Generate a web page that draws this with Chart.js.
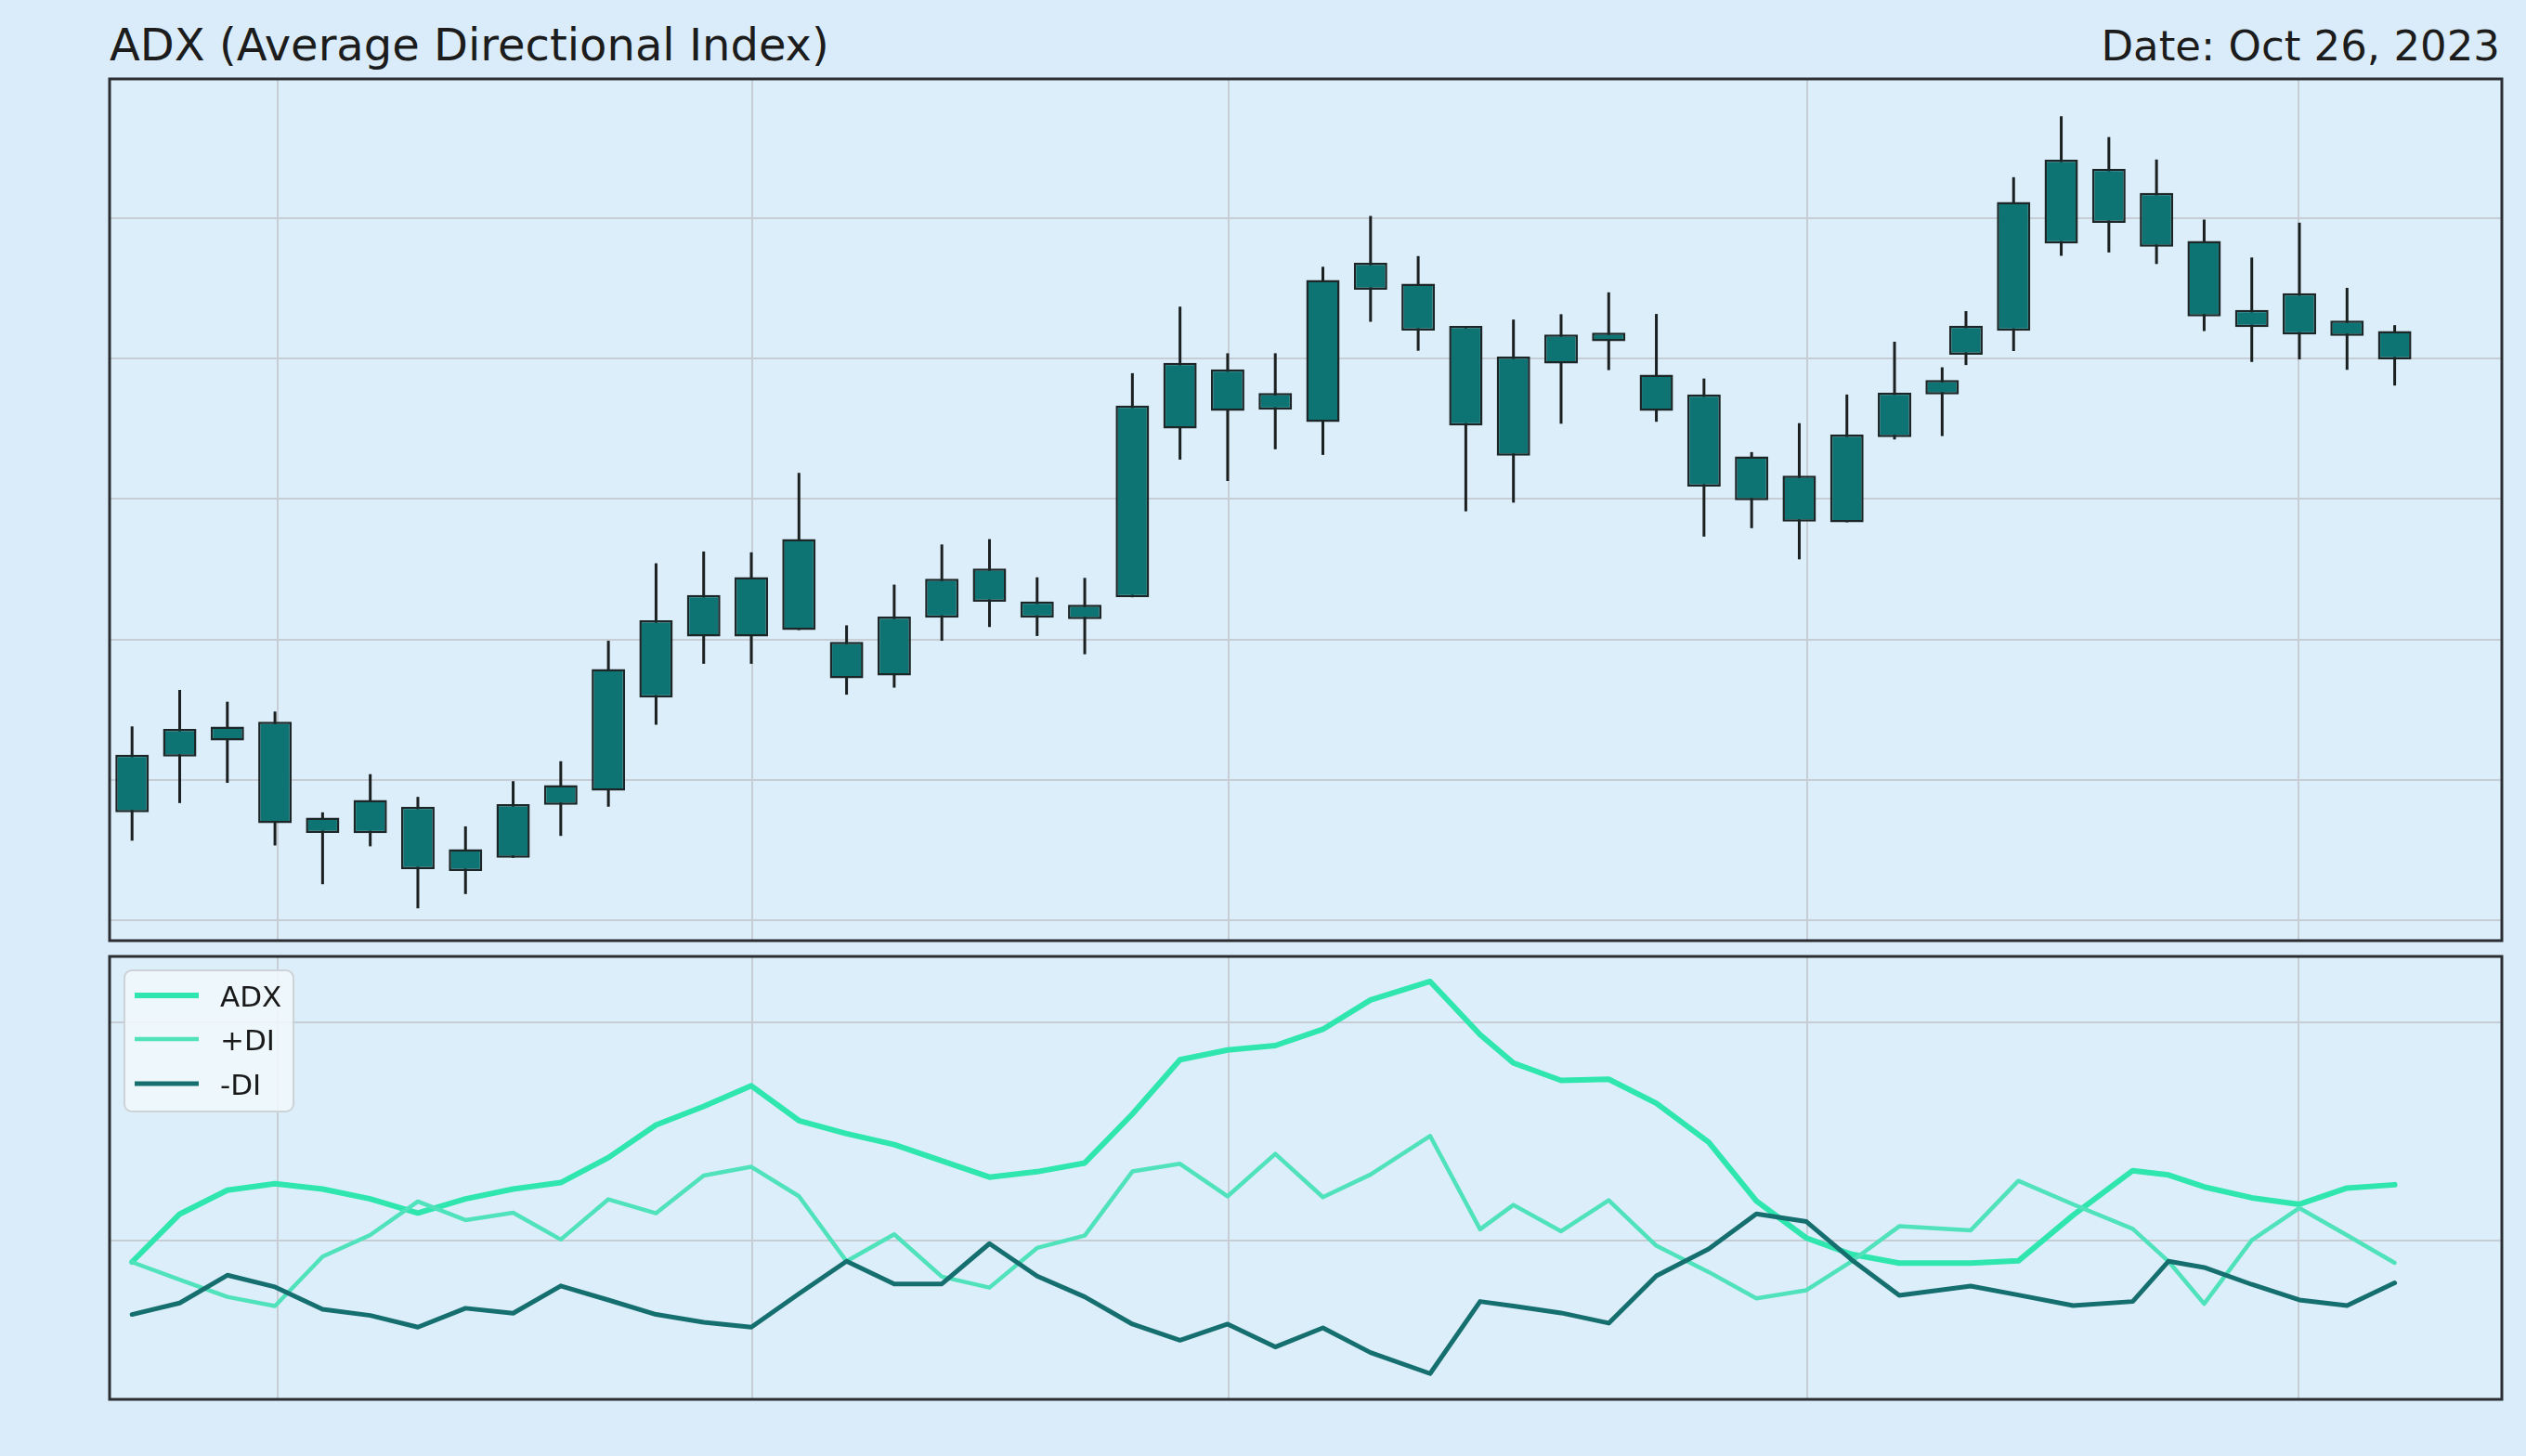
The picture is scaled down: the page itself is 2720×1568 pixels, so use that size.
<!DOCTYPE html>
<html>
<head>
<meta charset="utf-8">
<script src="https://cdn.jsdelivr.net/npm/chart.js@4.4.0/dist/chart.umd.min.js"></script>
<style>
html,body{margin:0;padding:0;background:#daecf9;width:2720px;height:1568px;overflow:hidden;font-family:"DejaVu Sans",sans-serif;}
#title{position:absolute;left:118px;top:24px;font-size:48px;line-height:48px;color:#1c1c1c;white-space:nowrap;}
#date{position:absolute;right:28px;top:27px;font-size:45px;line-height:45px;color:#1c1c1c;white-space:nowrap;}
#top{position:absolute;left:114px;top:81px;width:2584px;height:936px;}
#bot{position:absolute;left:114px;top:1026px;width:2584px;height:485px;}
</style>
</head>
<body>
<div id="title">ADX (Average Directional Index)</div>
<div id="date">Date: Oct 26, 2023</div>
<div id="top"><canvas id="priceChart"></canvas></div>
<div id="bot"><canvas id="adxChart"></canvas></div>
<script>
// ---- data ----
const candleSessions = [0,1,2,3,4,5,6,7,8,9,10,11,12,13,14,15,16,17,18,19,20,21,22,23,24,25,26,27,28,29,30,31,32,33,34,35,36,37,38,38.5,39.5,40.5,41.5,42.5,43.5,44.5,45.5,46.5,47.5];
const openP  = [103.84,105.83,106.40,107.07,103.65,103.10,104.04,102.53,102.22,104.11,104.61,107.93,110.10,110.10,110.33,109.91,108.71,110.77,111.34,111.35,111.23,111.50,117.51,118.14,118.77,117.74,122.45,122.67,121.16,120.07,119.82,120.62,119.43,118.72,116.52,115.83,114.17,117.20,118.72,120.14,120.99,124.10,124.83,125.90,124.19,121.73,120.86,121.35,120.98];
const highP  = [106.90,108.20,107.78,107.43,103.84,105.20,104.39,103.34,104.95,105.66,109.95,112.71,113.13,113.10,115.93,110.50,111.95,113.38,113.57,112.21,112.19,119.48,121.85,120.19,120.19,123.27,125.08,123.65,121.16,121.39,121.58,122.36,121.59,119.29,116.67,117.70,118.72,120.60,119.69,121.69,126.46,128.63,127.89,127.09,124.95,123.60,124.84,122.52,121.19];
const lowP   = [102.83,104.17,104.89,102.66,101.28,102.63,100.42,100.93,102.22,103.00,104.04,106.96,109.13,109.13,110.33,108.03,108.28,109.95,110.44,110.12,109.47,111.50,116.40,115.64,116.77,116.57,121.31,120.28,114.56,114.87,117.68,119.59,117.75,113.66,113.96,112.85,114.17,117.12,117.24,119.77,120.27,123.66,123.78,123.37,120.98,119.88,119.97,119.60,119.04];
const closeP = [105.89,106.81,106.89,103.45,103.11,104.28,101.82,101.75,104.13,104.81,108.94,110.68,111.58,112.22,113.57,108.61,110.81,112.16,112.52,110.77,110.72,118.33,119.85,119.62,118.18,122.80,123.41,121.00,117.62,116.54,120.86,120.92,118.14,115.44,114.95,114.19,117.29,118.79,119.24,121.17,125.58,127.08,126.76,123.98,121.50,121.12,122.33,120.81,119.97];

const indicatorSessions = [0,1,2,3,4,5,6,7,8,9,10,11,12,13,14,15,16,17,18,19,20,21,22,23,24,25,26,27.25,28.3,29,30,31,32,33.1,34.1,35.15,36.1,37.1,38.6,39.6,40.75,42,42.75,43.5,44.5,45.5,46.5,47.5];
const adx     = [18.0,22.4,24.6,25.2,24.7,23.8,22.5,23.8,24.7,25.3,27.6,30.6,32.3,34.2,31.0,29.8,28.8,27.3,25.8,26.3,27.1,31.6,36.6,37.5,37.9,39.4,42.1,43.8,38.9,36.3,34.7,34.8,32.6,29.0,23.6,20.2,18.7,17.9,17.9,18.1,22.3,26.4,26.0,24.9,23.9,23.3,24.8,25.1];
const plusDI  = [17.98,16.36,14.79,13.94,18.49,20.48,23.56,21.85,22.53,20.06,23.76,22.48,25.95,26.75,24.04,18.06,20.54,16.64,15.64,19.29,20.43,26.32,27.03,24.04,27.94,23.96,26.04,29.59,21.0,23.24,20.82,23.67,19.49,17.07,14.65,15.4,18.06,21.28,20.91,25.46,23.3,21.05,18.06,14.15,20.0,22.96,20.45,17.92];
const minusDI = [13.17,14.22,16.78,15.70,13.65,13.08,12.00,13.74,13.28,15.79,14.50,13.17,12.45,12.00,15.07,18.06,15.98,15.98,19.69,16.70,14.79,12.28,10.80,12.28,10.18,11.94,9.66,7.73,14.36,13.94,13.31,12.37,16.72,19.20,22.42,21.71,18.20,14.93,15.78,14.96,13.99,14.36,18.06,17.49,15.93,14.5,13.99,16.07];

const gridSessions = [3.05, 13.02, 23.03, 35.17, 45.49];
const priceGrid = [100, 105, 110, 115, 120, 125];
const indicatorGrid = [20, 40];
const seriesNames = ['ADX', '+DI', '-DI'];

// ---- styling ----
const BODY = '#0e7373', EDGE = '#1c2626', GRID = '#c6cdd4', FRAME = '#2a2e32', PLOTBG = '#ddeefb';
const LINECOL = ['#2fe6ae', '#4fe2bb', '#156f6f'];
const LINEW = [6, 4.5, 5];

const framePlugin = {
  id: 'frame',
  beforeDraw(chart) {
    const {ctx, chartArea: a} = chart;
    ctx.save(); ctx.fillStyle = PLOTBG; ctx.fillRect(a.left, a.top, a.right - a.left, a.bottom - a.top); ctx.restore();
  },
  afterDraw(chart) {
    const {ctx, chartArea: a} = chart;
    ctx.save(); ctx.strokeStyle = FRAME; ctx.lineWidth = 3;
    ctx.strokeRect(a.left, a.top, a.right - a.left, a.bottom - a.top); ctx.restore();
  }
};

function xScale() {
  return {
    type: 'linear', min: -0.472, max: 49.75, offset: false,
    grid: { color: GRID, lineWidth: 2, drawTicks: false, offset: false },
    border: { display: false },
    ticks: { display: false },
    afterBuildTicks: s => { s.ticks = gridSessions.map(v => ({ value: v })); },
    afterFit: s => { s.height = 0; }
  };
}
function yScale(min, max, grid) {
  return {
    type: 'linear', min, max,
    grid: { color: GRID, lineWidth: 2, drawTicks: false },
    border: { display: false },
    ticks: { display: false },
    afterBuildTicks: s => { s.ticks = grid.map(v => ({ value: v })); },
    afterFit: s => { s.width = 0; }
  };
}

new Chart(document.getElementById('priceChart'), {
  type: 'bar',
  data: {
    datasets: [
      {
        label: 'body',
        data: candleSessions.map((x, i) => ({ x, y: [Math.min(openP[i], closeP[i]), Math.max(openP[i], closeP[i])] })),
        backgroundColor: BODY, borderColor: EDGE, borderWidth: 2.5, borderSkipped: false,
        grouped: false, maxBarThickness: 36, barPercentage: 10, categoryPercentage: 1, order: 0
      },
      {
        label: 'wick',
        data: candleSessions.map((x, i) => ({ x, y: [lowP[i], highP[i]] })),
        backgroundColor: '#1a1f1f', borderWidth: 0,
        grouped: false, maxBarThickness: 3, barPercentage: 10, categoryPercentage: 1, order: 1
      }
    ]
  },
  options: {
    responsive: true, maintainAspectRatio: false, animation: false,
    layout: { padding: 4 },
    plugins: { legend: { display: false }, tooltip: { enabled: false } },
    scales: { x: xScale(), y: yScale(99.27, 129.96, priceGrid) }
  },
  plugins: [framePlugin]
});

const legendPlugin = {
  id: 'innerLegend',
  afterDraw(chart) {
    const {ctx, chartArea: a} = chart;
    const x0 = a.left + 16, y0 = a.top + 15, w = 182, h = 152;
    ctx.save();
    ctx.beginPath();
    ctx.roundRect(x0, y0, w, h, 8);
    ctx.fillStyle = 'rgba(240,247,252,0.9)'; ctx.fill();
    ctx.strokeStyle = '#cdd2d6'; ctx.lineWidth = 2; ctx.stroke();
    const rows = [42, 89, 137];
    chart.data.datasets.forEach((ds, i) => {
      const y = a.top + rows[i];
      ctx.beginPath(); ctx.moveTo(a.left + 27, y); ctx.lineTo(a.left + 96, y);
      ctx.strokeStyle = ds.borderColor; ctx.lineWidth = ds.borderWidth; ctx.stroke();
      ctx.fillStyle = '#1a1a1a'; ctx.font = '31px "DejaVu Sans"'; ctx.textBaseline = 'alphabetic';
      ctx.fillText(ds.label, a.left + 119, y + 12);
    });
    ctx.restore();
  }
};

const series = [adx, plusDI, minusDI];
new Chart(document.getElementById('adxChart'), {
  type: 'line',
  data: {
    datasets: series.map((vals, k) => ({
      label: seriesNames[k],
      data: indicatorSessions.map((x, i) => ({ x, y: vals[i] })),
      borderColor: LINECOL[k], borderWidth: LINEW[k], tension: 0,
      pointRadius: 0, borderJoinStyle: 'round', borderCapStyle: 'round', fill: false,
      order: 3 - k
    }))
  },
  options: {
    responsive: true, maintainAspectRatio: false, animation: false,
    layout: { padding: 4 },
    plugins: { legend: { display: false }, tooltip: { enabled: false } },
    scales: { x: xScale(), y: yScale(5.36, 46.1, indicatorGrid) }
  },
  plugins: [framePlugin, legendPlugin]
});
</script>
</body>
</html>
